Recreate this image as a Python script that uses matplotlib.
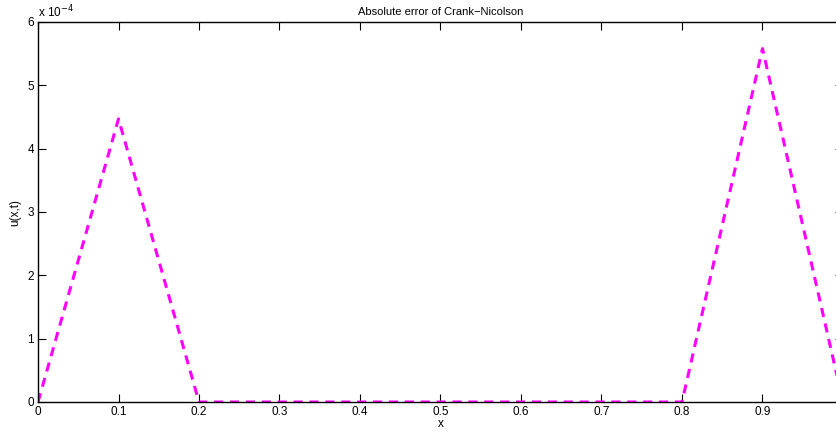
import numpy as np
import matplotlib.pyplot as plt
from matplotlib.ticker import FuncFormatter

plt.rcParams['font.family'] = ['Liberation Sans', 'DejaVu Sans']

x_vals = [0.0, 0.1, 0.2, 0.3, 0.4, 0.5, 0.6, 0.7, 0.8, 0.9, 1.0]
err_vals = [0.0, 4.47e-4, 0.0, 0.0, 0.0, 0.0, 0.0, 0.0, 0.0, 5.58e-4, 0.0]
x_ticks = [0, 0.1, 0.2, 0.3, 0.4, 0.5, 0.6, 0.7, 0.8, 0.9, 1.0]
y_ticks = [0, 1e-4, 2e-4, 3e-4, 4e-4, 5e-4, 6e-4]

fig = plt.figure(figsize=(8.37, 4.32), dpi=100)
W, H = 837, 432
ax = fig.add_axes([38 / W, 1 - 402 / H, (843 - 38) / W, (402 - 22) / H])

ax.plot(x_vals, err_vals, color='#ff00ff', linestyle='--', linewidth=2.2, dashes=(3, 2.2))

ax.set_xlim(0, 1)
ax.set_ylim(0, 6e-4)
ax.set_xticks(x_ticks)
ax.set_yticks(y_ticks)
# the label at x=1 falls outside the picture
ax.xaxis.set_major_formatter(FuncFormatter(lambda v, p: '' if v >= 0.99 else ('0' if v == 0 else f'{v:g}')))
ax.yaxis.set_major_formatter(FuncFormatter(lambda v, p: f'{v * 1e4:.0f}'))
ax.tick_params(direction='in', top=True, right=True, length=6, width=0.8,
               labelsize=8.5, pad=3)
for s in ax.spines.values():
    s.set_linewidth(1.0)

ax.text(0, 1.005, r'x 10$^{-4}$', transform=ax.transAxes, fontsize=8.5,
        ha='left', va='bottom')
ax.set_title('Absolute error of Crank\u2212Nicolson', fontsize=8, pad=5)
ax.set_xlabel('x', fontsize=8.5, labelpad=0)
ax.set_ylabel('u(x,t)', fontsize=8.5, labelpad=4)

plt.savefig('out.png', dpi=100)
